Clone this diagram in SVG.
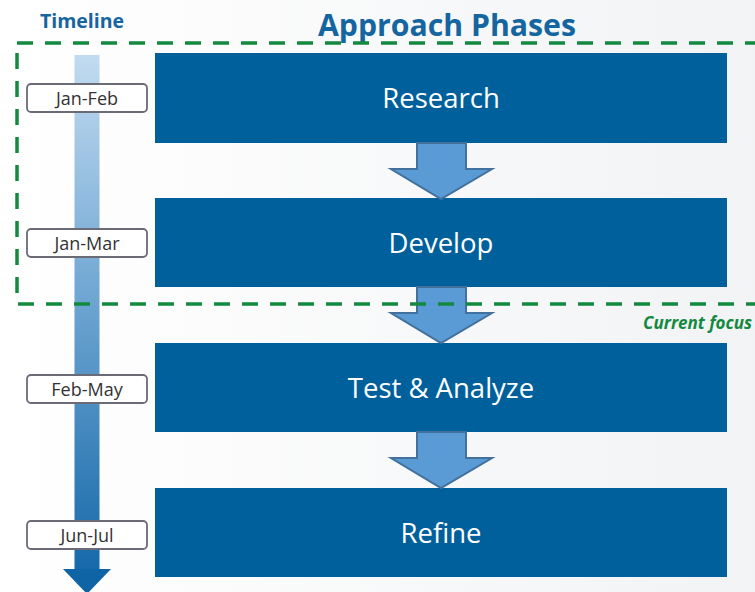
<svg xmlns="http://www.w3.org/2000/svg" width="755" height="592" viewBox="0 0 755 592">
  <defs>
    <linearGradient id="bg" x1="0" y1="0" x2="1" y2="0">
      <stop offset="0" stop-color="#ffffff"/>
      <stop offset="1" stop-color="#f2f3f5"/>
    </linearGradient>
    <linearGradient id="timeGrad" gradientUnits="userSpaceOnUse" x1="0" y1="55" x2="0" y2="592">
      <stop offset="0" stop-color="#c2dbf0"/>
      <stop offset="0.45" stop-color="#6fa6d2"/>
      <stop offset="1" stop-color="#0f64a6"/>
    </linearGradient>
    <style>
      .phase { fill: #00609c; }
      .phase-text { font-family: "Open Sans", "Liberation Sans", sans-serif; font-size: 27.5px; fill: #ffffff; text-anchor: middle; }
      .step { fill: #5b9bd5; stroke: #41719c; stroke-width: 2; stroke-linejoin: miter; }
      .when { fill: #ffffff; stroke: #6b6b78; stroke-width: 1.8; }
      .when-text { font-family: "Open Sans", "Liberation Sans", sans-serif; font-size: 18px; fill: #333333; text-anchor: middle; }
      .focus { fill: none; stroke: #12893f; stroke-width: 3.5; stroke-dasharray: 16 12; }
    </style>
  </defs>

  <rect x="0" y="0" width="755" height="592" fill="url(#bg)"/>

  <!-- headings -->
  <text x="82" y="28" font-family="Open Sans, Liberation Sans, sans-serif" font-size="19.5" font-weight="bold" fill="#1565a0" text-anchor="middle">Timeline</text>
  <text x="447" y="36" font-family="Open Sans, Liberation Sans, sans-serif" font-size="31" font-weight="bold" fill="#1565a0" text-anchor="middle" textLength="258" lengthAdjust="spacingAndGlyphs">Approach Phases</text>

  <!-- timeline arrow -->
  <g id="timeline">
    <rect x="74.5" y="55" width="25" height="516" fill="url(#timeGrad)"/>
    <polygon points="63,569 111,569 87,594" fill="#0f64a6"/>
  </g>

  <!-- phase boxes -->
  <g id="research">
    <rect class="phase" x="155" y="53" width="572" height="90"/>
    <text class="phase-text" x="441" y="108">Research</text>
  </g>
  <g id="develop">
    <rect class="phase" x="155" y="198" width="572" height="89"/>
    <text class="phase-text" x="441" y="253">Develop</text>
  </g>
  <g id="test-analyze">
    <rect class="phase" x="155" y="343" width="572" height="89"/>
    <text class="phase-text" x="441" y="398">Test &amp; Analyze</text>
  </g>
  <g id="refine">
    <rect class="phase" x="155" y="488" width="572" height="89"/>
    <text class="phase-text" x="441" y="543">Refine</text>
  </g>

  <!-- step arrows between phases -->
  <g id="connectors">
    <polygon class="step" points="417,143 466,143 466,169 492,169 441,199 391,169 417,169"/>
    <polygon class="step" points="417,287 466,287 466,313 492,313 441,343 391,313 417,313"/>
    <polygon class="step" points="417,432 466,432 466,458 492,458 441,488 391,458 417,458"/>
  </g>

  <!-- date labels -->
  <g id="jan-feb">
    <rect class="when" x="27" y="84" width="120" height="28" rx="4"/>
    <text class="when-text" x="87" y="105">Jan-Feb</text>
  </g>
  <g id="jan-mar">
    <rect class="when" x="27" y="229" width="120" height="28" rx="4"/>
    <text class="when-text" x="87" y="250">Jan-Mar</text>
  </g>
  <g id="feb-may">
    <rect class="when" x="27" y="375" width="120" height="28" rx="4"/>
    <text class="when-text" x="87" y="396">Feb-May</text>
  </g>
  <g id="jun-jul">
    <rect class="when" x="27" y="521" width="120" height="28" rx="4"/>
    <text class="when-text" x="87" y="542">Jun-Jul</text>
  </g>

  <!-- current focus frame -->
  <g id="current-focus">
    <rect class="focus" x="17" y="43" width="760" height="261"/>
    <text x="752" y="329" font-family="Open Sans, Liberation Sans, sans-serif" font-size="17" font-weight="bold" font-style="italic" fill="#12893f" text-anchor="end">Current focus</text>
  </g>
</svg>
